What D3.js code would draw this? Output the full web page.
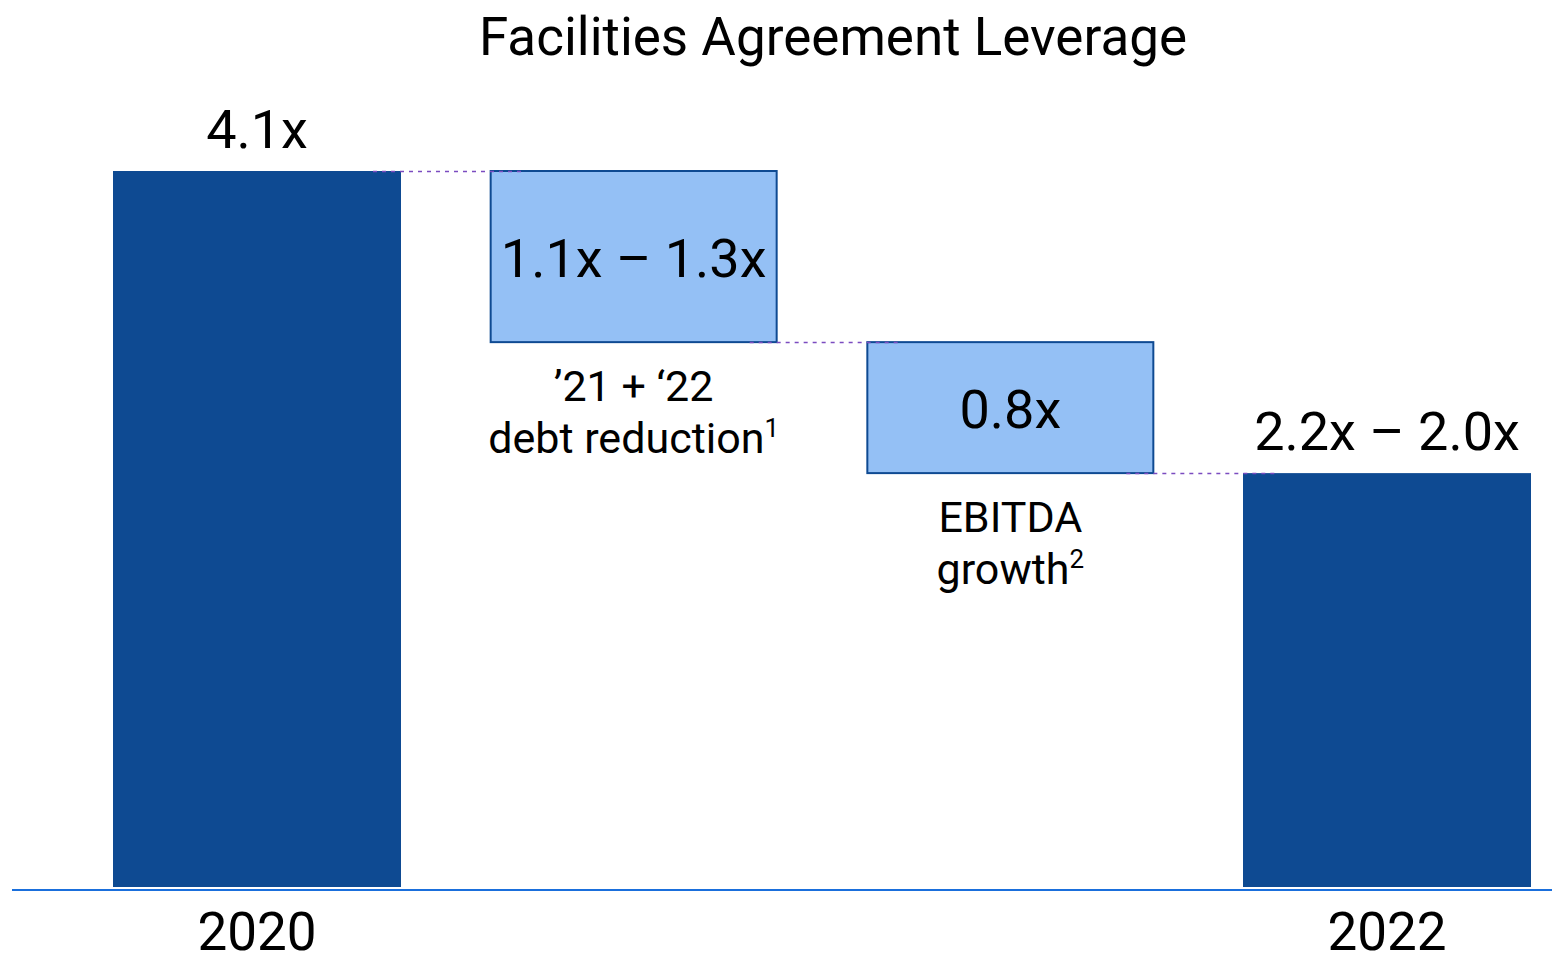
<!DOCTYPE html>
<html>
<head>
<meta charset="utf-8">
<script src="https://cdn.jsdelivr.net/npm/d3@7"></script>
<style>
  html, body { margin: 0; padding: 0; background: #fff; }
  svg { display: block; font-family: Roboto, "Noto Sans", sans-serif; }
</style>
</head>
<body>
<div id="root"></div>
<script>
// данные
const categories = ['2020', 'debt', 'ebitda', '2022'];
const axisLabels = ['2020', '', '', '2022'];
const kinds = ['total', 'step', 'step', 'total'];
const starts = [0, 4.1, 3.12, 0];       // нижняя/верхняя граница по шкале
const ends = [4.1, 3.12, 2.37, 2.37];
const valueLabels = ['4.1x', '1.1x \u2013 1.3x', '0.8x', '2.2x \u2013 2.0x'];
const noteLines = [[], ['\u201921 + \u201822', 'debt reduction|1'], ['EBITDA', 'growth|2'], []];
const title = 'Facilities Agreement Leverage';

const width = 1552, height = 954;
const baseY = 887;

const svg = d3.select('#root').append('svg')
    .attr('width', width)
    .attr('height', height);

const x = d3.scaleBand()
    .domain(categories)
    .range([113, 1531])
    .paddingInner(0.2354)
    .paddingOuter(0);

const y = d3.scaleLinear()
    .domain([0, 4.1])
    .range([baseY, 171]);

// заголовок
svg.append('text')
    .attr('x', 833)
    .attr('y', 55)
    .attr('text-anchor', 'middle')
    .attr('font-size', 53)
    .attr('fill', '#000')
    .text(title);

// столбцы
categories.forEach((c, i) => {
    const top = y(Math.max(starts[i], ends[i]));
    const bot = y(Math.min(starts[i], ends[i]));
    const isStep = kinds[i] === 'step';
    svg.append('rect')
        .attr('x', x(c) + (isStep ? 1 : 0))
        .attr('y', top)
        .attr('width', x.bandwidth() - (isStep ? 2 : 0))
        .attr('height', bot - top)
        .attr('fill', isStep ? '#94c0f5' : '#0e4a92')
        .attr('stroke', isStep ? '#0e4a92' : 'none')
        .attr('stroke-width', 2);
});

// соединительные пунктиры
for (let i = 0; i < categories.length - 1; i++) {
    const yy = Math.round(y(ends[i])) + 0.5;
    svg.append('line')
        .attr('x1', x(categories[i]) + x.bandwidth() - 28)
        .attr('x2', x(categories[i + 1]) + 32)
        .attr('y1', yy)
        .attr('y2', yy)
        .attr('stroke', '#7b4cc0')
        .attr('stroke-width', 1.4)
        .attr('stroke-dasharray', '4,5');
}

// ось
svg.append('line')
    .attr('x1', 12)
    .attr('x2', 1552)
    .attr('y1', 890)
    .attr('y2', 890)
    .attr('stroke', '#1a6fdc')
    .attr('stroke-width', 2);

// подписи значений
categories.forEach((c, i) => {
    const cx = x(c) + x.bandwidth() / 2;
    let ty;
    if (kinds[i] === 'step') {
        ty = (y(starts[i]) + y(ends[i])) / 2 + 20;
    } else {
        ty = y(ends[i]) - 23;
    }
    svg.append('text')
        .attr('x', cx)
        .attr('y', ty)
        .attr('text-anchor', 'middle')
        .attr('font-size', 54)
        .attr('fill', '#000')
        .text(valueLabels[i]);
});

// подписи шагов
categories.forEach((c, i) => {
    if (!noteLines[i].length) return;
    const cx = x(c) + x.bandwidth() / 2;
    const t = svg.append('text')
        .attr('x', cx)
        .attr('y', y(ends[i]) + 59)
        .attr('text-anchor', 'middle')
        .attr('font-size', 43)
        .attr('fill', '#000');
    noteLines[i].forEach((line, j) => {
        const [main, sup] = line.split('|');
        t.append('tspan')
            .attr('x', cx)
            .attr('dy', j === 0 ? 0 : 52)
            .text(main);
        if (sup) {
            t.append('tspan')
                .attr('font-size', 26)
                .attr('dy', -16)
                .text(sup);
            t.append('tspan').attr('dy', 16).text('');
        }
    });
});

// ось X
categories.forEach((c, i) => {
    if (!axisLabels[i]) return;
    svg.append('text')
        .attr('x', x(c) + x.bandwidth() / 2)
        .attr('y', 950)
        .attr('text-anchor', 'middle')
        .attr('font-size', 53)
        .attr('fill', '#000')
        .text(axisLabels[i]);
});
</script>
</body>
</html>
